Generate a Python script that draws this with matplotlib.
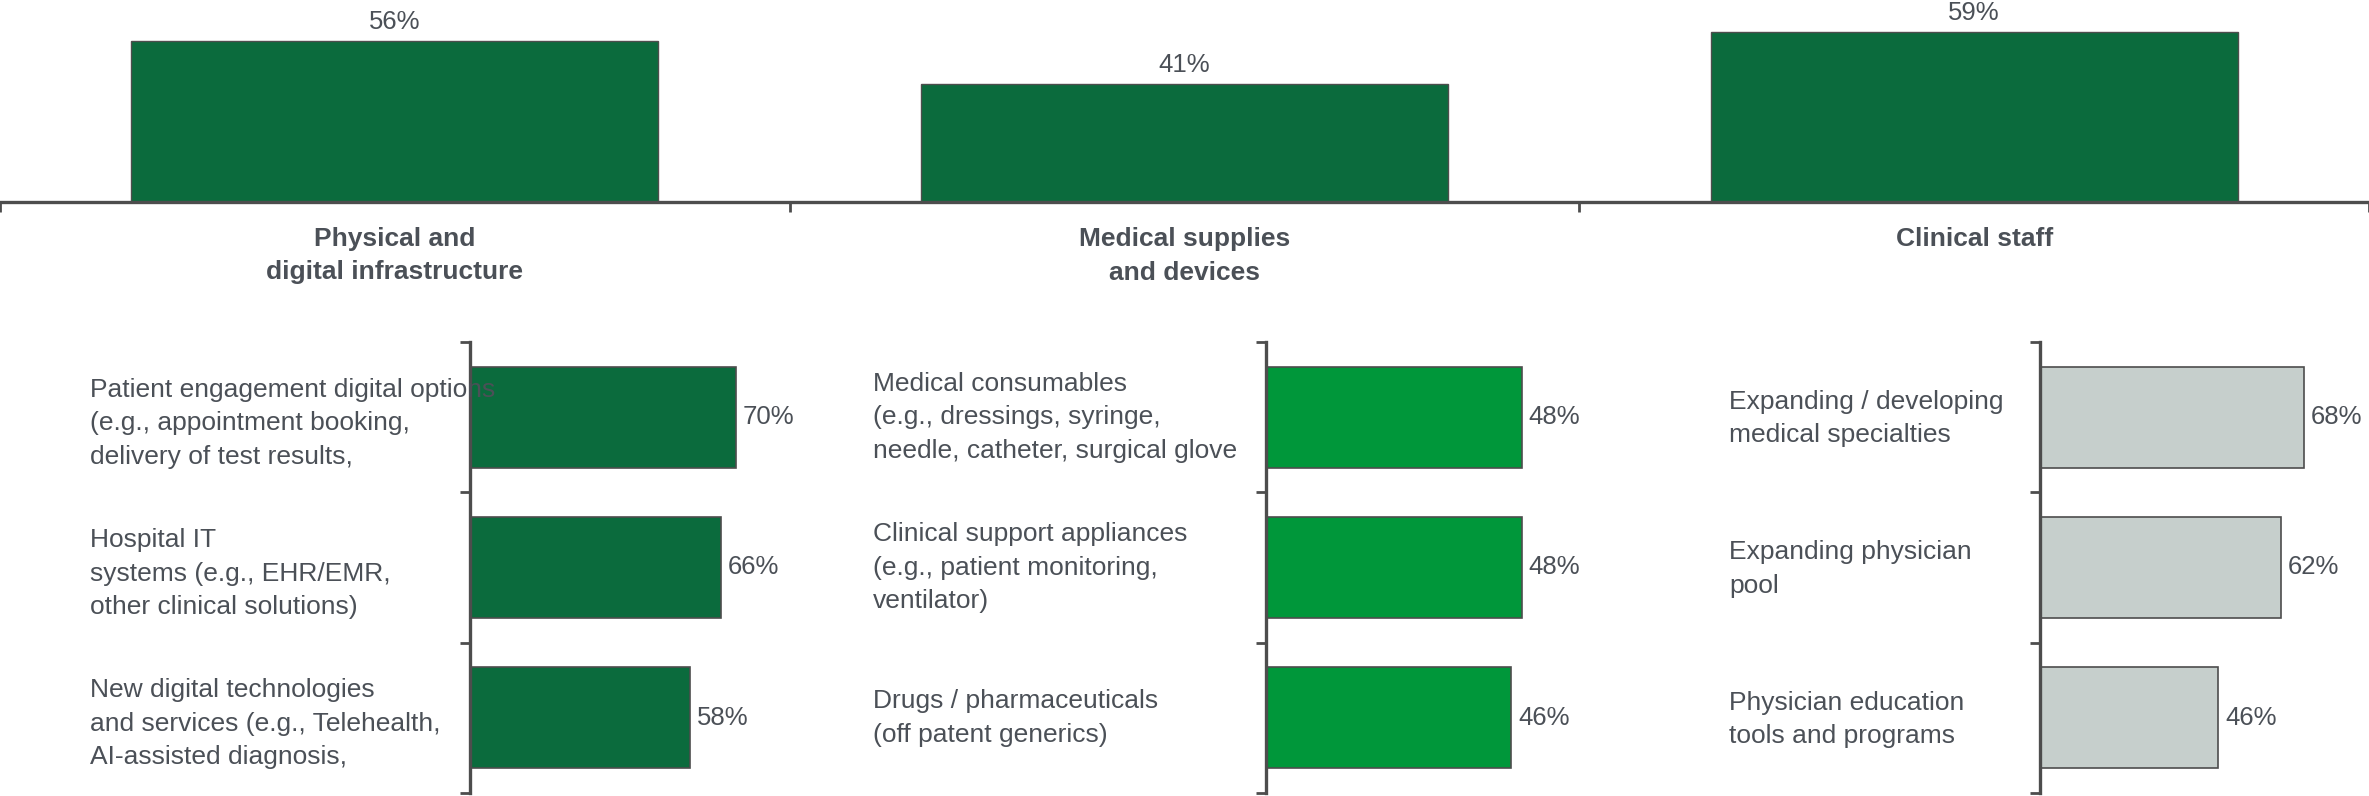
import matplotlib
matplotlib.use('Agg')
import matplotlib.pyplot as plt
import matplotlib.transforms as mtransforms

plt.rcParams['font.family'] = ['Liberation Sans', 'DejaVu Sans']

# top chart: share by category
categories = ['Physical and\ndigital infrastructure', 'Medical supplies\nand devices', 'Clinical staff']
category_values = [56, 41, 59]

# bottom charts: items within each category
infra_labels = ['Patient engagement digital options\n(e.g., appointment booking,\ndelivery of test results,',
                'Hospital IT\nsystems (e.g., EHR/EMR,\nother clinical solutions)',
                'New digital technologies\nand services (e.g., Telehealth,\nAI-assisted diagnosis,']
infra_values = [70, 66, 58]

supplies_labels = ['Medical consumables\n(e.g., dressings, syringe,\nneedle, catheter, surgical glove',
                   'Clinical support appliances\n(e.g., patient monitoring,\nventilator)',
                   'Drugs / pharmaceuticals\n(off patent generics)']
supplies_values = [48, 48, 46]

staff_labels = ['Expanding / developing\nmedical specialties',
                'Expanding physician\npool',
                'Physician education\ntools and programs']
staff_values = [68, 62, 46]

DARK = '#0b6b3d'
BRIGHT = '#00973a'
GREY = '#c6cfcc'
AXIS = '#4d4d4d'
TEXT = '#4b5057'

W, H = 2369, 796
fig = plt.figure(figsize=(W / 100, H / 100), dpi=100)


def px_box(left, top, width, height):
    return [left / W, 1 - (top + height) / H, width / W, height / H]


# ---- top chart ----
ax = fig.add_axes(px_box(0, 0, W, 202))
x = list(range(len(categories)))
ax.bar(x, category_values, width=0.667, color=DARK, edgecolor=AXIS, linewidth=1)
for xi, v in zip(x, category_values):
    ax.annotate(f'{v}%', (xi, v), xytext=(0, 5), textcoords='offset points',
                ha='center', va='bottom', fontsize=18.5, color=TEXT)
ax.set_xlim(-0.5, 2.5)
ax.set_ylim(0, 70.2)
ax.set_yticks([])
for s in ['top', 'right', 'left']:
    ax.spines[s].set_visible(False)
ax.spines['bottom'].set_color(AXIS)
ax.spines['bottom'].set_linewidth(2.4)
ax.set_xticks(x)
ax.set_xticklabels(categories, fontsize=19, fontweight='bold', color=TEXT, linespacing=1.5)
ax.tick_params(axis='x', which='major', length=0, pad=18)
ax.set_xticks([-0.5, 0.5, 1.5, 2.5], minor=True)
ax.tick_params(axis='x', which='minor', length=7, width=2, color=AXIS, direction='out')
ax.patch.set_alpha(0)

# ---- bottom charts ----
# labels, values, colour, spine x (px), px per %, label x (px), label nudge
panels = [
    (infra_labels, infra_values, DARK, 470, 3.8, 90, 0.04),
    (supplies_labels, supplies_values, BRIGHT, 1266, 5.33, 873, 0.0),
    (staff_labels, staff_values, GREY, 2040, 3.88, 1729, 0.01),
]
for labels, values, color, left, px_per, text_x, nudge in panels:
    pw = 300
    a = fig.add_axes(px_box(left, 342, pw, 451))
    y = list(range(len(values)))
    a.barh(y, values, height=0.67, color=color, edgecolor=AXIS, linewidth=1.2)
    a.set_xlim(0, pw / px_per)
    a.set_ylim(2.5, -0.5)
    a.set_xticks([])
    a.set_yticks([-0.5, 0.5, 1.5, 2.5])
    a.set_yticklabels([])
    a.tick_params(axis='y', length=7, width=2, color=AXIS, direction='out')
    for s in ['top', 'right', 'bottom']:
        a.spines[s].set_visible(False)
    a.spines['left'].set_color(AXIS)
    a.spines['left'].set_linewidth(2.4)
    a.patch.set_alpha(0)
    for yi, v in zip(y, values):
        a.annotate(f'{v}%', (v, yi), xytext=(5, 0), textcoords='offset points',
                   ha='left', va='center', fontsize=18.5, color=TEXT, annotation_clip=False)
    tr = mtransforms.blended_transform_factory(fig.transFigure, a.transData)
    for yi, lab in zip(y, labels):
        a.text(text_x / W, yi + nudge, lab, transform=tr, ha='left', va='center',
               fontsize=19, color=TEXT, linespacing=1.5, zorder=5, clip_on=False)

fig.savefig('out.png', dpi=100)
